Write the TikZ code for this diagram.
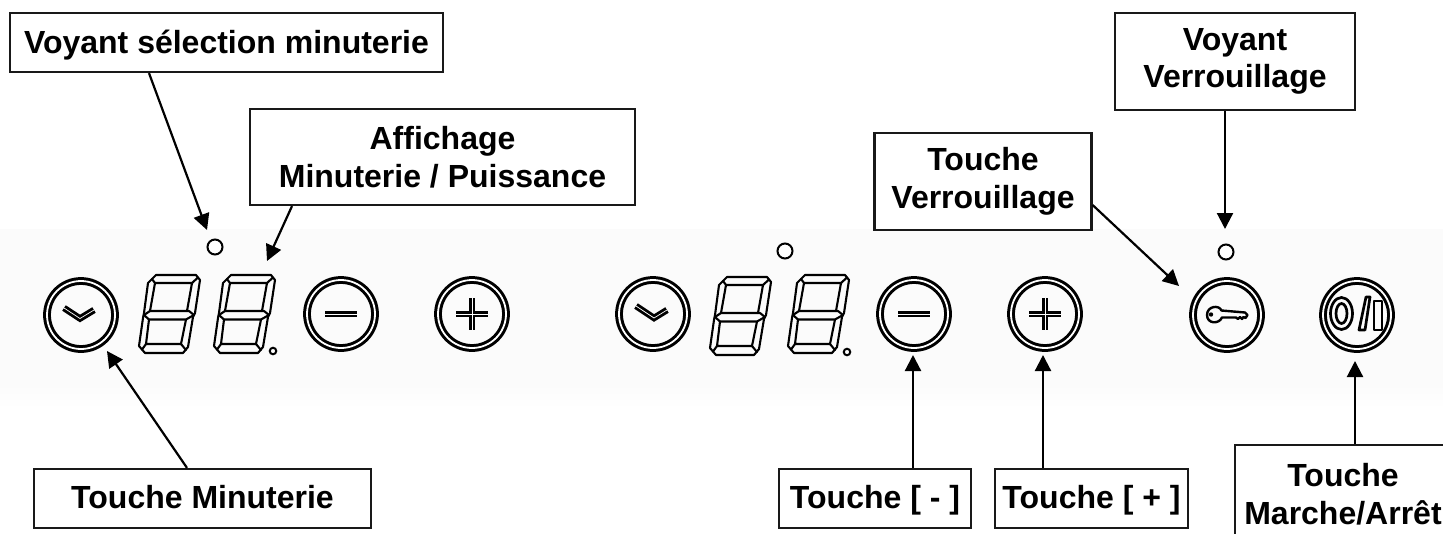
\documentclass[tikz,border=0pt]{standalone}
\usepackage{fontspec}
\setmainfont{Liberation Sans}
\usetikzlibrary{arrows.meta,calc}
\definecolor{bandcol}{HTML}{FBFBFB}
\tikzset{
  x=1pt,y=-1pt,
  label box/.style={draw=black!90,line width=2.2pt,fill=white,rectangle,inner sep=0pt,align=center,
    font=\fontsize{32}{37.5}\selectfont\bfseries},
  one line/.style={text height=#1,text depth=4pt},
  ring button/.style={circle,draw=black,double=white,double distance=1.8pt,line width=3pt,minimum size=68pt,inner sep=0pt},
  led/.style={circle,draw=black,line width=2pt,fill=white,minimum size=15pt,inner sep=0pt},
  small dot/.style={circle,draw=black,line width=2pt,fill=white,minimum size=6.5pt,inner sep=0pt},
  symb/.style={draw=white,line width=0.7pt,line cap=round,line join=round,
    preaction={draw=black,line width=6.5pt}},
  glyph/.style={draw=black,line width=2.7pt,line join=round},
  seg/.style={draw=black,line width=2.1pt,line join=round,line cap=round},
  pointer/.style={draw=black,line width=2.2pt,-{Triangle[length=16pt,width=16pt]}},
  pics/digitglyph/.style={code={
    \draw[seg] (17,0)--(57,0)--(61,5)--(56,38)--(54,42)--(49,72)--(44,78)--(6,78)--(0,71)--(4,43)--(5,38)--(9,8)--cycle;
    \draw[seg] (5,40)--(11,36)--(50,36)--(55,40)--(47,44.5)--(10,44.5)--cycle;
    \draw[seg] (11,36)--(16,8)--(53,8)--(48,36);
    \draw[seg] (10,44.5)--(7,69)--(42,69)--(47,44.5);
    \draw[seg] (16,8)--(13,4) (53,8)--(59,2.5) (7,69)--(3,74.5) (42,69)--(47,75);
  }}
}
\begin{document}
\begin{tikzpicture}
\useasboundingbox (0,0) rectangle (1443,533);
\clip (0,0) rectangle (1443,533);
\fill[white] (0,0) rectangle (1443,533);
\fill[bandcol] (0,229) rectangle (1443,385);
\shade[top color=bandcol,bottom color=white] (0,385) rectangle (1443,408);

% panel: left group
\node[ring button] (chevA) at (81,315) {};
\draw[symb] ($(chevA)+(-17,-7)$) -- ($(chevA)+(-1,3.5)$) -- ($(chevA)+(13,-5)$);
\pic at (139,275) {digitglyph};
\pic at (214,275) {digitglyph};
\node[small dot] (dotA) at (273,351) {};
\node[led] (ledA) at (215,247) {};
\node[ring button] (minusA) at (341,314) {};
\draw[symb] ($(minusA)+(-16,0)$) -- ($(minusA)+(16,0)$);
\node[ring button] (plusA) at (472,314) {};
\draw[symb] ($(plusA)+(-16,0)$) -- ($(plusA)+(16,0)$) ($(plusA)+(0,-16)$) -- ($(plusA)+(0,16)$);

% panel: right group
\node[ring button] (chevB) at (653,314) {};
\draw[symb] ($(chevB)+(-17,-8)$) -- ($(chevB)+(1,4)$) -- ($(chevB)+(14,-4)$);
\pic at (710,277) {digitglyph};
\pic at (788,275) {digitglyph};
\node[small dot] (dotB) at (847,352) {};
\node[led] (ledB) at (785,251) {};
\node[ring button] (minusB) at (914,314) {};
\draw[symb] ($(minusB)+(-16,0)$) -- ($(minusB)+(16,0)$);
\node[ring button] (plusB) at (1045,314) {};
\draw[symb] ($(plusB)+(-16,0)$) -- ($(plusB)+(16,0)$) ($(plusB)+(0,-16)$) -- ($(plusB)+(0,16)$);

% key button
\node[led] (ledC) at (1226,252) {};
\node[ring button] (keyB) at (1227,315) {};
\begin{scope}[shift={(keyB)}]
\draw[glyph,line width=2.4pt] (-5.5,-4.5) -- (18,-2.5) -- (20.5,0) -- (18.5,3) -- (16.5,2) -- (15,4) -- (13,2) -- (11,4) -- (9,2.5) -- (-5,2.5)
  .. controls (-8,9.5) and (-20,9) .. (-20,0) .. controls (-20,-9) and (-8,-10.5) .. (-5.5,-4.5) -- cycle;
\fill[black] (-16,-0.5) circle (2.2);
\end{scope}

% on/off button
\node[ring button] (powerB) at (1357,315) {};
\begin{scope}[shift={(powerB)}]
\draw[glyph] (-15.5,-1.5) ellipse (11 and 16);
\draw[glyph] (-15.5,-1.5) ellipse (5.5 and 10);
\draw[glyph] (2,15) -- (8,15) -- (13,-18) -- (9,-18) -- cycle;
\draw[glyph] (17,-14) rectangle (25,15);
\end{scope}

% labels
\node[label box,one line=25pt,minimum width=433pt,minimum height=59pt] (bVoyantSel) at (226.5,42.5) {Voyant sélection minuterie};
\node[label box,minimum width=385pt,minimum height=96pt] (bAffichage) at (442.5,157) {Affichage\\Minuterie / Puissance};
\node[label box,one line=23pt,minimum width=337pt,minimum height=59pt] (bMinut) at (202.5,498.5) {Touche Minuterie};
\node[label box,one line=23pt,minimum width=192.5pt,minimum height=59pt] (bMoins) at (875,498.5) {Touche [ - ]};
\node[label box,one line=23pt,minimum width=193pt,minimum height=59pt] (bPlus) at (1091.5,498.5) {Touche [ + ]};
\node[label box,minimum width=217pt,minimum height=97pt] (bVerr) at (983,181.5) {Touche\\Verrouillage};
\node[label box,minimum width=240pt,minimum height=97pt] (bVoyVerr) at (1235,61.5) {Voyant\\Verrouillage};
\node[label box,minimum width=216pt,minimum height=98pt] (bPower) at (1343,494) {Touche\\Marche/Arrêt};

% connector free ends
\coordinate (tipVoyantSel) at (207,230);
\coordinate (tipAffichage) at (267,261);
\coordinate (tipMinut) at (107,351);
\coordinate (tipMoins) at (913,355);
\coordinate (tipPlus) at (1043,355);
\coordinate (tipVerr) at (1179,286);
\coordinate (tipVoyVerr) at (1225,229);
\coordinate (tipPower) at (1355,361);

\draw[pointer] (bVoyantSel.south -| 149,0) -- (tipVoyantSel);
\draw[pointer] (bAffichage.south -| 292,0) -- (tipAffichage);
\draw[pointer] (bMinut.north -| 187,0) -- (tipMinut);
\draw[pointer] (bMoins.north -| tipMoins) -- (tipMoins);
\draw[pointer] (bPlus.north -| tipPlus) -- (tipPlus);
\draw[pointer] (bVerr.east |- 0,205) -- (tipVerr);
\draw[pointer] (bVoyVerr.south -| tipVoyVerr) -- (tipVoyVerr);
\draw[pointer] (bPower.north -| tipPower) -- (tipPower);
\end{tikzpicture}
\end{document}
